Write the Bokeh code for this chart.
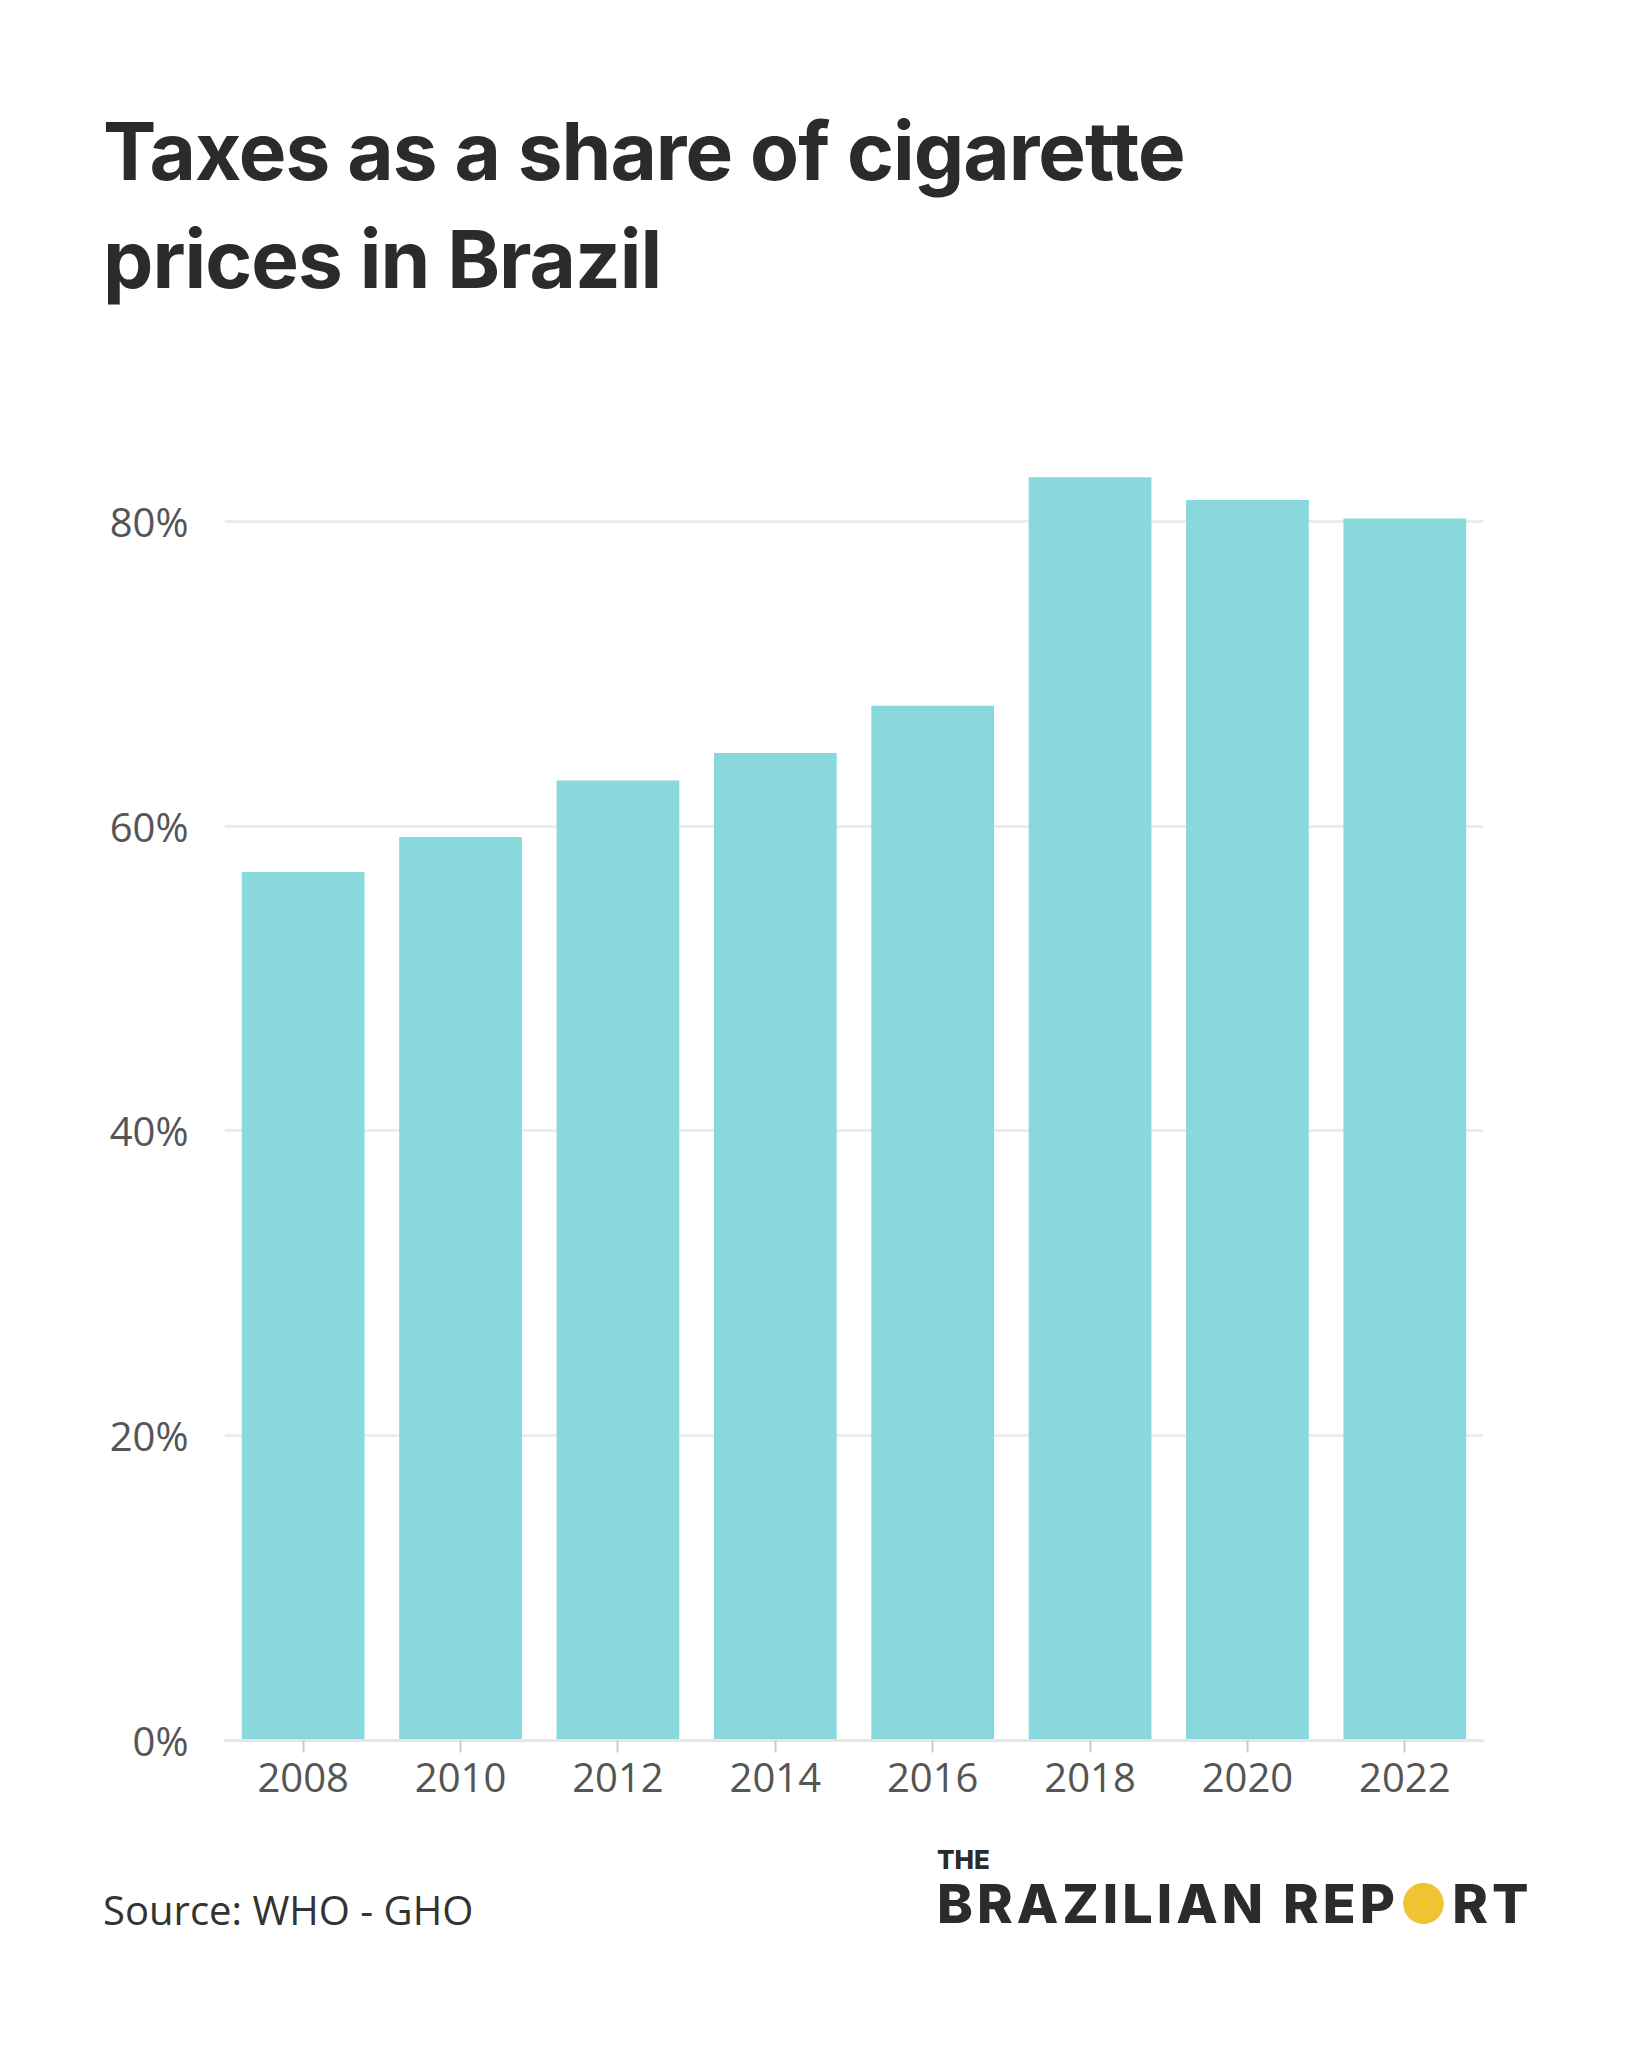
from bokeh.plotting import figure
from bokeh.layouts import column
from bokeh.models import Div, FixedTicker, CustomJSTickFormatter
from bokeh.embed import file_html
from bokeh.resources import INLINE

years = ["2008", "2010", "2012", "2014", "2016", "2018", "2020", "2022"]
shares = [57.0, 59.3, 63.0, 64.8, 67.9, 82.9, 81.4, 80.2]
yticks = [0, 20, 40, 60, 80]

title = Div(text="Taxes as a share of cigarette<br>prices in Brazil", width=1622, height=390,
            styles={"font-family": "Inter", "font-weight": "700", "font-size": "80px",
                    "line-height": "108px", "color": "#2b2b2b", "padding-left": "98px",
                    "padding-top": "92px", "letter-spacing": "-1px"})

p = figure(x_range=years, y_range=(0, 84), width=1622, height=1440, output_backend="svg",
           toolbar_location=None, min_border_left=224, min_border_right=139,
           min_border_top=60, min_border_bottom=100)
p.vbar(x=years, top=shares, width=0.78, color="#89d9dc", line_color=None)
p.outline_line_color = None
p.xgrid.grid_line_color = None
p.ygrid.grid_line_color = "#ececec"
p.ygrid.grid_line_width = 3
p.yaxis.ticker = FixedTicker(ticks=yticks)
p.yaxis.formatter = CustomJSTickFormatter(code="return tick + '%'")
p.yaxis.axis_line_color = None
p.yaxis.major_tick_line_color = None
p.yaxis.minor_tick_line_color = None
p.xaxis.axis_line_color = "#e6e6e6"
p.xaxis.axis_line_width = 3
p.xaxis.major_tick_line_color = "#cccccc"
p.xaxis.major_tick_line_width = 2
p.xaxis.major_tick_out = 12
p.xaxis.major_tick_in = 0
for ax in (p.xaxis, p.yaxis):
    ax.major_label_text_font = "Open Sans"
    ax.major_label_text_font_size = "40px"
    ax.major_label_text_color = "#555555"
p.yaxis.major_label_standoff = 30
p.xaxis.major_label_standoff = 10

footer = Div(text=("<div style='position:relative;width:1622px;height:160px;'>"
                   "<div style=\"position:absolute;left:98px;top:36px;font-family:'Open Sans';font-size:40px;color:#333;\">Source: WHO - GHO</div>"
                   "<div style=\"position:absolute;left:932px;top:2px;font-family:Inter;font-weight:800;color:#2b2b2b;font-size:26px;line-height:26px;\">THE</div>"
                   "<div style=\"position:absolute;left:932px;top:30px;font-family:Inter;font-weight:800;color:#2b2b2b;font-size:54px;line-height:58px;letter-spacing:4px;white-space:nowrap;\">"
                   "BRAZILIAN REP<span style='color:#f2c230;'>●</span>RT</div></div>"),
             width=1622, height=160)

layout = column(title, p, footer)
open("out.html", "w").write(file_html(layout, INLINE))
